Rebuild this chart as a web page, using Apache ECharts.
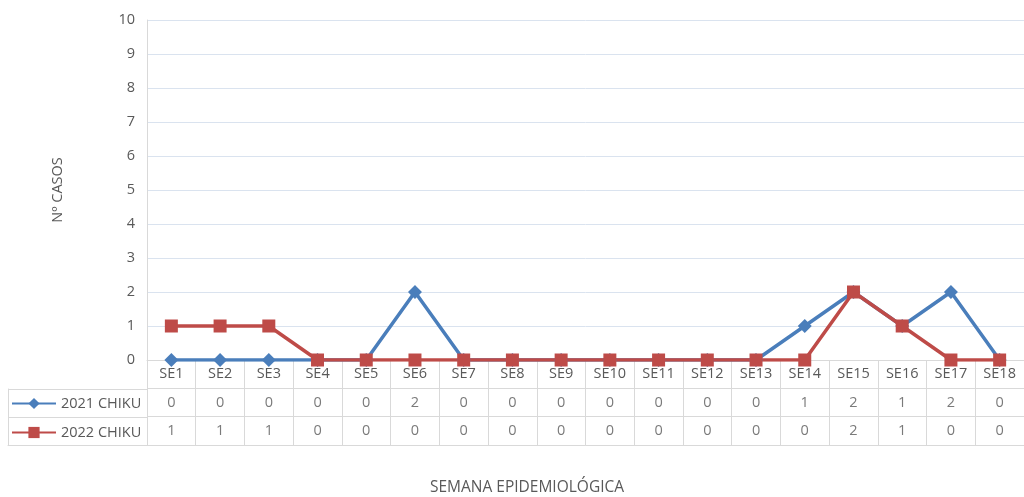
<!DOCTYPE html>
<html><head><meta charset="utf-8">
<script src="https://cdn.jsdelivr.net/npm/echarts@6/dist/echarts.min.js"></script>
<style>html,body{margin:0;padding:0;background:#fff}#c{width:1024px;height:497px}</style>
</head><body><div id="c"></div>
<script>
const categories = ['SE1','SE2','SE3','SE4','SE5','SE6','SE7','SE8','SE9','SE10','SE11','SE12','SE13','SE14','SE15','SE16','SE17','SE18'];
const series2021 = [0,0,0,0,0,2,0,0,0,0,0,0,0,1,2,1,2,0];
const series2022 = [1,1,1,0,0,0,0,0,0,0,0,0,0,0,2,1,0,0];
const seriesNames = ['2021 CHIKU','2022 CHIKU'];
const yTicks = [0,1,2,3,4,5,6,7,8,9,10];

const FONT = 'Open Sans';
const FS = 14.5;
const TXT = '#595959';
const BORDER = '#d9d9d9';
const BLUE = '#4a7ebb';
const RED = '#be4b48';

const tableRows = ['hdr', seriesNames[0], seriesNames[1]];
const tableData = [];
categories.forEach((c,i)=>{
  tableData.push({value:[c, seriesNames[0]], label:{formatter:String(series2021[i])}});
  tableData.push({value:[c, seriesNames[1]], label:{formatter:String(series2022[i])}});
});

const chart = echarts.init(document.getElementById('c'));
chart.setOption({
  animation:false,
  textStyle:{fontFamily:FONT},
  title:{text:'SEMANA EPIDEMIOLÓGICA', left:522, top:483, textAlign:'center', textVerticalAlign:'middle',
    textStyle:{fontFamily:FONT, fontSize:15.5, fontWeight:'normal', color:TXT}},
  legend:{orient:'vertical', left:11, top:396, padding:0, itemGap:14, itemWidth:44, itemHeight:14,
    data:seriesNames, textStyle:{fontFamily:FONT, fontSize:FS, color:TXT}, selectedMode:false},
  grid:[
    {left:147, right:0, top:20, height:340, containLabel:false},
    {left:147, right:0, top:360, height:85},
    {left:8, width:139, top:389, height:56}
  ],
  xAxis:[
    {gridIndex:0, type:'category', data:categories, boundaryGap:true,
      axisLine:{lineStyle:{color:BORDER}}, axisTick:{show:false},
      axisLabel:{color:TXT, fontSize:FS, fontFamily:FONT, margin:6}},
    {gridIndex:1, type:'category', data:categories, boundaryGap:true,
      axisLine:{show:true, lineStyle:{color:BORDER}}, axisTick:{show:false}, axisLabel:{show:false},
      splitLine:{show:true, interval:0, lineStyle:{color:BORDER}}},
    {gridIndex:2, type:'category', data:['legend'], boundaryGap:true,
      axisLine:{show:true, lineStyle:{color:BORDER}}, axisTick:{show:false}, axisLabel:{show:false},
      splitLine:{show:false}}
  ],
  yAxis:[
    {gridIndex:0, type:'value', min:0, max:10, interval:1,
      name:'Nº CASOS', nameLocation:'middle', nameGap:82, nameRotate:90,
      nameTextStyle:{color:TXT, fontSize:FS, fontFamily:FONT},
      axisLine:{show:true, lineStyle:{color:BORDER}}, axisTick:{show:false},
      axisLabel:{color:TXT, fontSize:FS, fontFamily:FONT, margin:12},
      splitLine:{lineStyle:{color:'#dae3ef'}}},
    {gridIndex:1, type:'category', data:tableRows, inverse:true, boundaryGap:true,
      axisLine:{show:true, lineStyle:{color:BORDER}}, axisTick:{show:false}, axisLabel:{show:false},
      splitLine:{show:true, interval:0, lineStyle:{color:BORDER}}},
    {gridIndex:2, type:'category', data:[seriesNames[0],seriesNames[1]], inverse:true, boundaryGap:true,
      axisLine:{show:true, lineStyle:{color:BORDER}}, axisTick:{show:false}, axisLabel:{show:false},
      splitLine:{show:true, interval:0, lineStyle:{color:BORDER}}}
  ],
  series:[
    {name:seriesNames[0], type:'line', xAxisIndex:0, yAxisIndex:0, data:series2021,
      symbol:'diamond', symbolSize:14, lineStyle:{color:BLUE, width:3.5}, itemStyle:{color:BLUE}},
    {name:seriesNames[1], type:'line', xAxisIndex:0, yAxisIndex:0, data:series2022,
      symbol:'rect', symbolSize:13, lineStyle:{color:RED, width:3.5}, itemStyle:{color:RED}},
    {type:'scatter', xAxisIndex:1, yAxisIndex:1, data:tableData, symbolSize:0, silent:true,
      label:{show:true, position:'inside', color:TXT, fontSize:FS, fontFamily:FONT}}
  ]
});
</script></body></html>
